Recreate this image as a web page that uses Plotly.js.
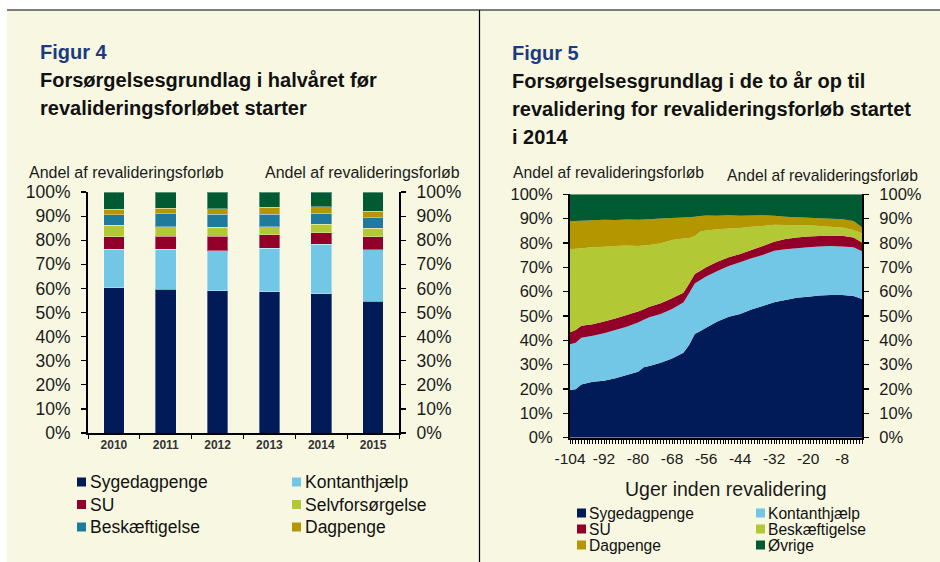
<!DOCTYPE html>
<html><head><meta charset="utf-8">
<script src="https://cdn.plot.ly/plotly-3.0.1.min.js"></script>
<style>html,body{margin:0;padding:0;background:#fff}#chart{width:940px;height:562px}</style>
</head><body><div id="chart"></div>
<script>
// ---------- Figur 4 data (andel i %) ----------
const years = ['2010','2011','2012','2013','2014','2015'];
const fig4Sygedagpenge   = [60.3, 59.7, 59.0, 58.6, 57.8, 54.6];
const fig4Kontanthjaelp  = [15.9, 16.5, 16.6, 18.0, 20.5, 21.5];
const fig4SU             = [5.3, 5.5, 6.0, 5.7, 4.8, 5.4];
const fig4Selvforsorgelse= [4.7, 3.9, 3.7, 3.2, 3.5, 3.4];
const fig4Beskaeftigelse = [4.4, 5.4, 5.4, 5.2, 4.5, 4.5];
const fig4Dagpenge       = [2.3, 2.2, 2.4, 2.9, 2.8, 2.7];
const fig4Ovrige         = [7.1, 6.8, 6.9, 6.4, 6.1, 7.9];

// ---------- Figur 5 data (andel i %) ----------
const weeks = [-104,-102,-100,-96,-92,-88,-84,-80,-78,-76,-72,-68,-64,-62,-60,-58,-56,-52,-48,-44,-40,-36,-32,-28,-24,-20,-16,-12,-8,-4,-1];
const weekTickVals = [-104,-92,-80,-68,-56,-44,-32,-20,-8];
const weekTickText = ['-104','-92','-80','-68','-56','-44','-32','-20','-8'];
const fig5Sygedagpenge  = [19.6,19.9,21.9,23.0,23.4,24.4,25.8,27.1,28.9,29.5,30.8,32.5,34.9,38.1,42.6,43.8,45.2,47.7,49.7,50.8,52.7,54.1,55.6,56.6,57.5,57.9,58.4,58.6,58.6,58.2,57.0];
const fig5Kontanthjaelp = [18.8,19.1,19.2,18.9,19.5,19.8,19.8,20.2,19.6,20.0,20.0,20.4,20.6,21.2,20.8,21.0,21.0,20.8,20.8,21.3,21.0,21.0,21.2,20.8,20.3,20.3,20.2,20.2,20.0,20.0,19.6];
const fig5SU            = [4.9,5.2,4.9,4.7,4.8,4.8,4.8,4.5,4.3,4.3,4.4,4.4,4.1,3.9,3.9,3.8,3.8,3.8,3.6,3.4,3.4,3.7,3.7,4.2,4.5,4.5,4.3,4.2,4.4,4.1,3.6];
const fig5Beskaeftigelse= [34.1,33.4,31.8,31.6,30.8,29.8,28.6,27.0,26.2,25.4,24.7,23.9,22.2,18.8,15.6,16.1,15.1,13.3,11.8,10.7,9.6,8.2,7.0,5.8,5.0,4.6,4.1,3.7,3.4,3.0,3.8];
const fig5Dagpenge      = [11.5,11.4,11.3,11.1,11.0,10.6,10.6,10.7,10.6,10.6,10.2,9.1,8.7,8.6,7.9,6.4,6.2,5.6,5.5,5.0,4.6,4.4,3.7,3.4,3.3,3.1,3.2,3.3,3.3,3.7,2.5];
const fig5Ovrige        = [11.1,11.0,10.9,10.7,10.5,10.6,10.4,10.5,10.4,10.2,9.9,9.7,9.5,9.4,9.2,8.9,8.7,8.8,8.6,8.8,8.7,8.6,8.8,9.2,9.4,9.6,9.8,10.0,10.3,11.0,13.5];

// ---------- styling ----------
const C = {
  navy:'#011b58', lightblue:'#72c6e6', red:'#92002a', lime:'#b2c834',
  teal:'#1f7a9b', gold:'#b39600', green:'#005a32'
};
const FONT = 'Liberation Sans, Arial, Helvetica, sans-serif';
const W = 940, H = 562;
const px = x => x / W, py = y => 1 - y / H;

const fig4Series = [
  {name:'Sygedagpenge', y:fig4Sygedagpenge, color:C.navy, legend:true},
  {name:'Kontanthjælp', y:fig4Kontanthjaelp, color:C.lightblue, legend:true},
  {name:'SU', y:fig4SU, color:C.red, legend:true},
  {name:'Selvforsørgelse', y:fig4Selvforsorgelse, color:C.lime, legend:true},
  {name:'Beskæftigelse', y:fig4Beskaeftigelse, color:C.teal, legend:true},
  {name:'Dagpenge', y:fig4Dagpenge, color:C.gold, legend:true},
  {name:'Øvrige', y:fig4Ovrige, color:C.green, legend:false}
];
const fig5Series = [
  {name:'Sygedagpenge', y:fig5Sygedagpenge, color:C.navy},
  {name:'Kontanthjælp', y:fig5Kontanthjaelp, color:C.lightblue},
  {name:'SU', y:fig5SU, color:C.red},
  {name:'Beskæftigelse', y:fig5Beskaeftigelse, color:C.lime},
  {name:'Dagpenge', y:fig5Dagpenge, color:C.gold},
  {name:'Øvrige', y:fig5Ovrige, color:C.green}
];

const traces = [];
fig4Series.forEach(s => traces.push({
  type:'bar', x:years, y:s.y, name:s.name, xaxis:'x', yaxis:'y',
  marker:{color:s.color, line:{color:'rgba(255,255,255,0.35)', width:1}},
  showlegend:false, hovertemplate:'%{x}: %{y:.1f}%<extra>'+s.name+'</extra>'
}));
fig5Series.forEach(s => traces.push({
  type:'scatter', mode:'none', x:weeks, y:s.y, name:s.name, xaxis:'x2', yaxis:'y3',
  stackgroup:'one', fillcolor:s.color, line:{width:0},
  showlegend:false, hovertemplate:'%{x}: %{y:.1f}%<extra>'+s.name+'</extra>'
}));

const annotations = [];
const shapes = [];
function txt(text, x, y, size, opts={}) {
  annotations.push({
    text, x:px(x), y:py(y), xref:'paper', yref:'paper', showarrow:false,
    xanchor:opts.anchor||'left', yanchor:'middle',
    font:{family:FONT, size, color:opts.color||'#1a1a1a', weight:opts.weight||'normal'}
  });
}
// panel background and frame
shapes.push({type:'rect', xref:'paper', yref:'paper', x0:px(7), x1:px(940), y0:py(10), y1:py(562),
  fillcolor:'#f8f8e2', line:{width:0}, layer:'below'});
shapes.push({type:'line', xref:'paper', yref:'paper', x0:px(7), x1:px(940), y0:py(10), y1:py(10),
  line:{color:'#000', width:1}, layer:'below'});
shapes.push({type:'line', xref:'paper', yref:'paper', x0:px(479.5), x1:px(479.5), y0:py(10), y1:py(562),
  line:{color:'#000', width:1.2}, layer:'below'});

// titles
txt('Figur 4', 38, 52, 20, {weight:'bold', color:'#1b3a7f'});
txt('Forsørgelsesgrundlag i halvåret før', 38, 80, 20, {weight:'bold', color:'#111'});
txt('revalideringsforløbet starter', 38, 108, 20, {weight:'bold', color:'#111'});
txt('Figur 5', 510, 53, 20, {weight:'bold', color:'#1b3a7f'});
txt('Forsørgelsesgrundlag i de to år op til', 510, 81, 20, {weight:'bold', color:'#111'});
txt('revalidering for revalideringsforløb startet', 510, 109, 20, {weight:'bold', color:'#111'});
txt('i 2014', 510, 137, 20, {weight:'bold', color:'#111'});

// axis captions
txt('Andel af revalideringsforløb', 27, 172, 16);
txt('Andel af revalideringsforløb', 263, 172, 16);
txt('Andel af revalideringsforløb', 511, 173, 15.7);
txt('Andel af revalideringsforløb', 725, 175, 15.7);
txt('Uger inden revalidering', 726, 489, 19.5, {anchor:'center'});

// legends
function legend(series, x0s, rows, sq, size, gap) {
  const items = series.filter(s => s.legend !== false);
  items.forEach((s, i) => {
    const col = i % 2, row = Math.floor(i / 2);
    const x = x0s[col], y = rows[row];
    shapes.push({type:'rect', xref:'paper', yref:'paper', x0:px(x), x1:px(x+sq),
      y0:py(y - sq/2), y1:py(y + sq/2), fillcolor:s.color, line:{width:0}});
    txt(s.name, x + sq + gap, y, size, {color:'#111'});
  });
}
legend(fig4Series, [77, 292], [482, 504.5, 527], 9, 17.5, 2);
legend(fig5Series, [577, 756], [513, 529, 545], 9, 15.6, 1);

const yBase = {
  range:[0,100], dtick:10, ticksuffix:'%', ticks:'outside', ticklen:5, tickwidth:1.2,
  tickcolor:'#000', showline:true, linecolor:'#000', linewidth:2, showgrid:false,
  zeroline:false, fixedrange:true, ticklabelstandoff:7
};
const layout = {
  width:W, height:H, margin:{l:0, r:0, t:0, b:0},
  paper_bgcolor:'#ffffff', plot_bgcolor:'rgba(0,0,0,0)',
  font:{family:FONT, color:'#1a1a1a'},
  showlegend:false, barmode:'stack', bargap:0.6,
  xaxis:{domain:[px(88), px(399)], anchor:'y', type:'category', tickson:'boundaries',
    ticks:'outside', ticklen:4, tickcolor:'#000', showline:true, linecolor:'#000', linewidth:2,
    tickfont:{size:12, weight:'bold', color:'#333'}, fixedrange:true},
  yaxis:Object.assign({}, yBase, {domain:[py(433), py(192)], anchor:'x', tickfont:{size:17.5}}),
  yaxis2:Object.assign({}, yBase, {overlaying:'y', side:'right', anchor:'x', tickfont:{size:17.5}}),
  xaxis2:{domain:[px(570), px(862)], anchor:'y3', type:'linear', range:[-104,-1],
    tickmode:'array', tickvals:weekTickVals, ticktext:weekTickText,
    ticks:'outside', ticklen:4, tickcolor:'#000', showline:true,
    linecolor:'#000', linewidth:2, showgrid:false, zeroline:false, fixedrange:true,
    tickfont:{size:15.5, color:'#1a1a1a'}, ticklabelstandoff:2,
    minor:{tickmode:'linear', tick0:-104, dtick:1, ticks:'outside', ticklen:4, tickcolor:'#000', tickwidth:1, showgrid:false}},
  yaxis3:Object.assign({}, yBase, {domain:[py(437.7), py(194.3)], anchor:'x2', tickfont:{size:16.5}}),
  yaxis4:Object.assign({}, yBase, {overlaying:'y3', side:'right', anchor:'x2', tickfont:{size:16.5}}),
  shapes, annotations
};
// keep the right-hand axes attached to their subplots
traces.push({type:'scatter', x:[years[0]], y:[0], xaxis:'x', yaxis:'y2', mode:'none', showlegend:false, hoverinfo:'skip'});
traces.push({type:'scatter', x:[weeks[0]], y:[0], xaxis:'x2', yaxis:'y4', mode:'none', showlegend:false, hoverinfo:'skip'});

Plotly.newPlot('chart', traces, layout, {displayModeBar:false, staticPlot:true});
</script></body></html>
